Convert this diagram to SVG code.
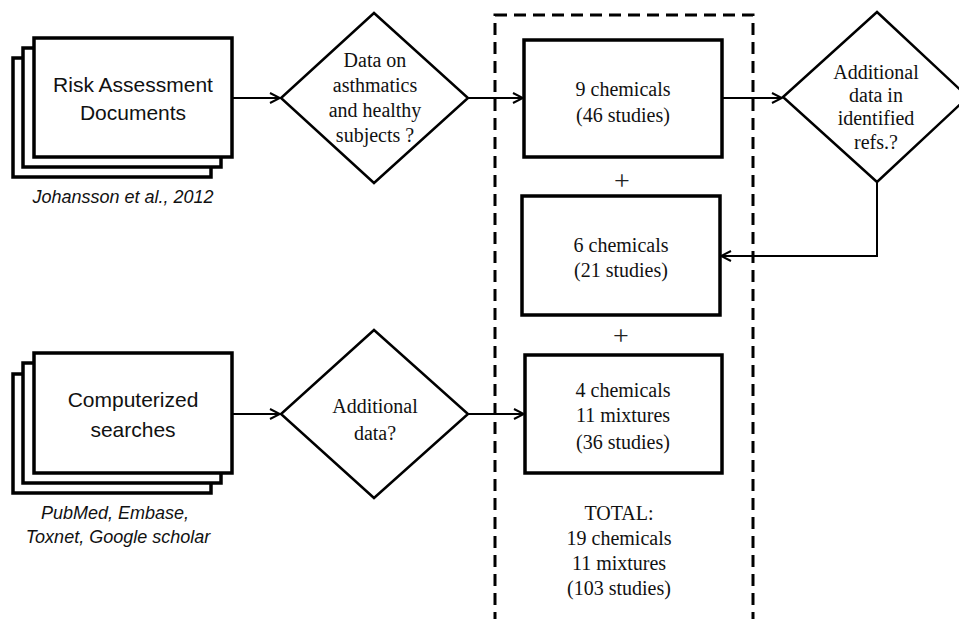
<svg xmlns="http://www.w3.org/2000/svg" width="959" height="619" viewBox="0 0 959 619">
<defs>
<marker id="arr" viewBox="0 0 12 12" refX="11" refY="6" markerWidth="12" markerHeight="12" markerUnits="userSpaceOnUse" orient="auto">
<path d="M1,1 L11,6 L1,11" fill="none" stroke="#000" stroke-width="2"/>
</marker>
<style>
.doc{fill:#fff;stroke:#000;stroke-width:3.5}
.box{fill:#fff;stroke:#000;stroke-width:3.5}
.dia{fill:#fff;stroke:#000;stroke-width:2.5}
.con{fill:none;stroke:#000;stroke-width:2}
.sans{font-family:"Liberation Sans",Arial,sans-serif;font-size:21px;fill:#111;text-anchor:middle}
.cap{font-family:"Liberation Sans",Arial,sans-serif;font-size:18px;font-style:italic;fill:#111;text-anchor:middle}
.serif{font-family:"Liberation Serif","Times New Roman",serif;font-size:20px;fill:#111;text-anchor:middle}
.plus{font-family:"Liberation Serif","Times New Roman",serif;font-size:28px;fill:#222;text-anchor:middle}
</style>
</defs>
<rect width="959" height="619" fill="#fff"/>
<g id="group-box">
<rect x="495" y="15" width="258" height="607" fill="none" stroke="#000" stroke-width="3" stroke-dasharray="12 7"/>
</g>
<g id="connectors">
<line class="con" x1="232" y1="98" x2="280" y2="98" marker-end="url(#arr)"/>
<line class="con" x1="468" y1="98" x2="523" y2="98" marker-end="url(#arr)"/>
<line class="con" x1="722" y1="98" x2="782" y2="98" marker-end="url(#arr)"/>
<polyline class="con" points="877,182 877,256 721,256" marker-end="url(#arr)"/>
<line class="con" x1="232" y1="414" x2="280" y2="414" marker-end="url(#arr)"/>
<line class="con" x1="468" y1="414" x2="524" y2="414" marker-end="url(#arr)"/>
</g>
<g id="doc-risk">
<rect class="doc" x="13" y="58" width="198" height="119"/>
<rect class="doc" x="23" y="48" width="198" height="119"/>
<rect class="doc" x="34" y="38" width="198" height="119"/>
<text class="sans" x="133" y="92">Risk Assessment</text>
<text class="sans" x="133" y="120">Documents</text>
<text class="cap" x="123" y="203">Johansson et al., 2012</text>
</g>
<g id="doc-search">
<rect class="doc" x="13" y="374" width="198" height="119"/>
<rect class="doc" x="23" y="363" width="198" height="120"/>
<rect class="doc" x="34" y="353" width="198" height="120"/>
<text class="sans" x="133" y="407">Computerized</text>
<text class="sans" x="133" y="437">searches</text>
<text class="cap" x="115" y="519">PubMed, Embase,</text>
<text class="cap" x="118" y="543">Toxnet, Google scholar</text>
</g>
<g id="dec-asthma">
<polygon class="dia" points="374,13 468,98 374,183 281,98"/>
<text class="serif" x="375" y="67">Data on</text>
<text class="serif" x="375" y="92">asthmatics</text>
<text class="serif" x="375" y="117">and healthy</text>
<text class="serif" x="375" y="142">subjects ?</text>
</g>
<g id="dec-refs">
<polygon class="dia" points="877,12 968,97 877,182 783,97"/>
<text class="serif" x="876" y="79">Additional</text>
<text class="serif" x="876" y="102">data in</text>
<text class="serif" x="876" y="125">identified</text>
<text class="serif" x="876" y="149">refs.?</text>
</g>
<g id="dec-additional">
<polygon class="dia" points="374,330 468,414 374,498 281,414"/>
<text class="serif" x="375" y="413">Additional</text>
<text class="serif" x="375" y="440">data?</text>
</g>
<g id="box-9">
<rect class="box" x="524" y="40" width="198" height="117"/>
<text class="serif" x="623" y="96">9 chemicals</text>
<text class="serif" x="623" y="122">(46 studies)</text>
</g>
<text class="plus" x="622" y="190">+</text>
<g id="box-6">
<rect class="box" x="522" y="196" width="198" height="119"/>
<text class="serif" x="621" y="252">6 chemicals</text>
<text class="serif" x="621" y="277">(21 studies)</text>
</g>
<text class="plus" x="621" y="345">+</text>
<g id="box-4">
<rect class="box" x="525" y="355" width="197" height="118"/>
<text class="serif" x="623" y="397">4 chemicals</text>
<text class="serif" x="623" y="422">11 mixtures</text>
<text class="serif" x="623" y="449">(36 studies)</text>
</g>
<g id="total">
<text class="serif" x="619" y="520">TOTAL:</text>
<text class="serif" x="619" y="545">19 chemicals</text>
<text class="serif" x="619" y="570">11 mixtures</text>
<text class="serif" x="619" y="595">(103 studies)</text>
</g>
</svg>
